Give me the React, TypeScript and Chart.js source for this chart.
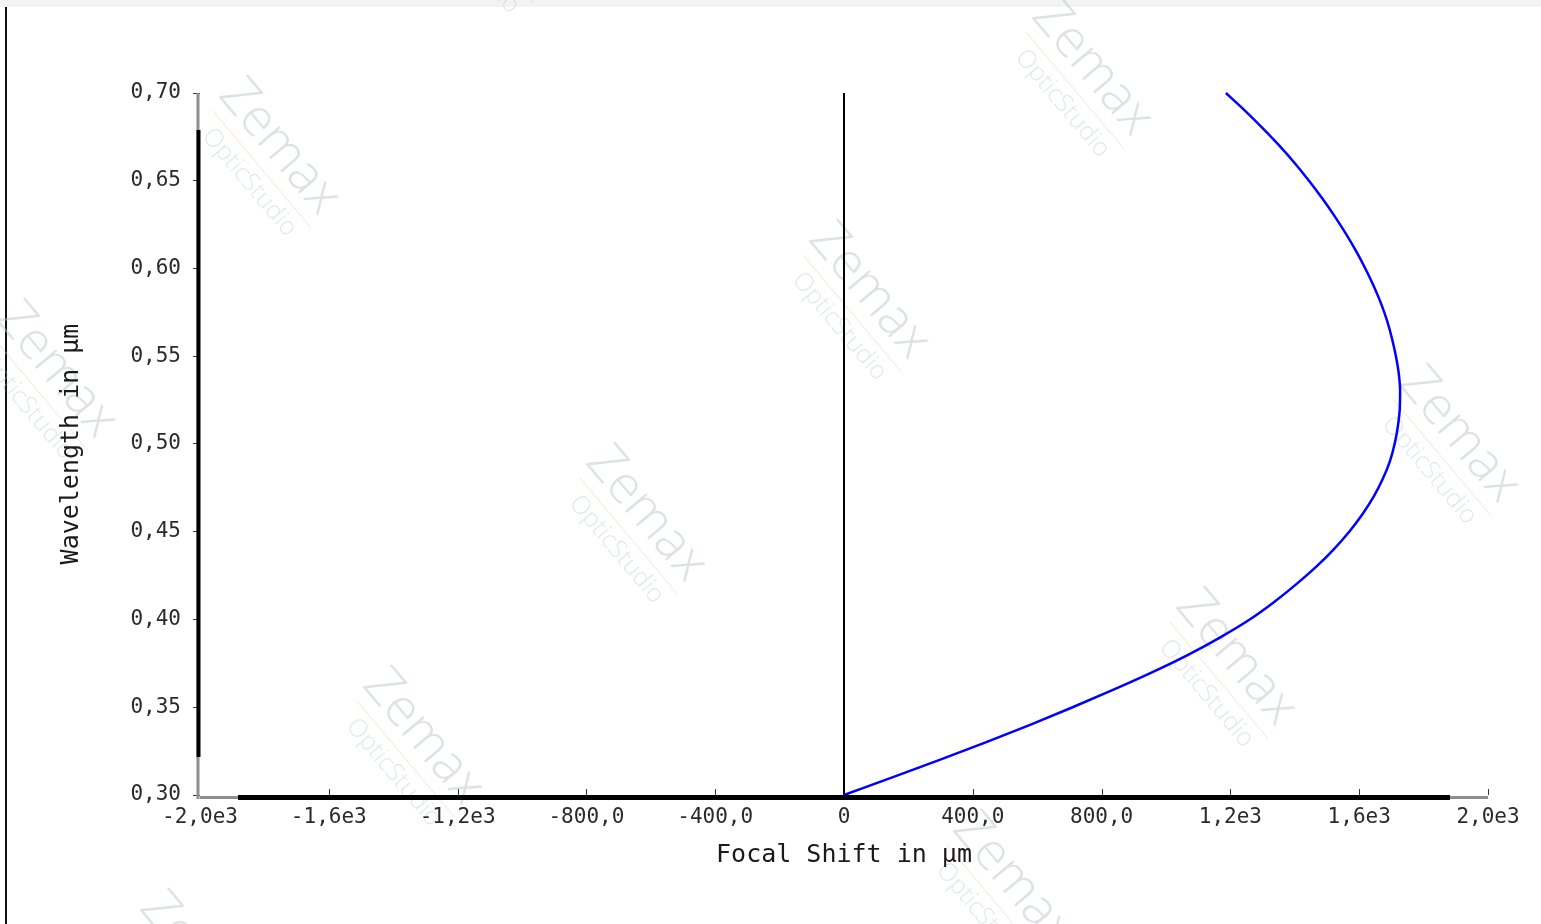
import React, { useEffect, useRef } from "react";
import { Chart, registerables } from "chart.js";

Chart.register(...registerables);

// Chromatic focal shift: wavelength (µm) against focal shift (µm)
const wavelengths = [
  0.30, 0.31, 0.32, 0.33, 0.34, 0.35, 0.36, 0.37, 0.38, 0.39,
  0.40, 0.41, 0.42, 0.43, 0.44, 0.45, 0.46, 0.47, 0.48, 0.49,
  0.50, 0.51, 0.52, 0.53, 0.54, 0.55, 0.56, 0.57, 0.58, 0.59,
  0.60, 0.61, 0.62, 0.63, 0.64, 0.65, 0.66, 0.67, 0.68, 0.69,
  0.70,
];
const focalShift = [
  0, 150, 297, 440, 578, 710, 837, 958, 1070, 1170,
  1260, 1336, 1404, 1466, 1521, 1569, 1610, 1645, 1673, 1695,
  1710, 1720, 1726, 1727, 1723, 1714, 1702, 1687, 1668, 1645,
  1619, 1590, 1558, 1523, 1485, 1444, 1400, 1352, 1300, 1245,
  1186,
];

const xTickValues = [-2000, -1600, -1200, -800, -400, 0, 400, 800, 1200, 1600, 2000];
const xTickLabels = ["-2,0e3", "-1,6e3", "-1,2e3", "-800,0", "-400,0", "0", "400,0", "800,0", "1,2e3", "1,6e3", "2,0e3"];
const yTickValues = [0.3, 0.35, 0.4, 0.45, 0.5, 0.55, 0.6, 0.65, 0.7];
const yTickLabels = ["0,30", "0,35", "0,40", "0,45", "0,50", "0,55", "0,60", "0,65", "0,70"];

const MONO = '"DejaVu Sans Mono", "Liberation Mono", monospace';

// Faint diagonal "Zemax OpticStudio" watermark tiled across the page
const drawWatermarks = (ctx: CanvasRenderingContext2D, w: number, h: number) => {
  const base = [645, 515];
  const u = [223, -223];
  const v = [367, 367];
  ctx.save();
  for (let i = -3; i <= 3; i++) {
    for (let j = -2; j <= 2; j++) {
      const cx = base[0] + i * u[0] + j * v[0];
      const cy = base[1] + i * u[1] + j * v[1];
      if (cx < -150 || cx > w + 150 || cy < -150 || cy > h + 150) continue;
      ctx.save();
      ctx.translate(cx, cy);
      ctx.rotate((50 * Math.PI) / 180);
      ctx.textAlign = "center";
      ctx.textBaseline = "middle";
      ctx.fillStyle = "rgba(185,194,204,0.48)";
      ctx.font = '300 52px "Open Sans", sans-serif';
      ctx.fillText("Zemax", 0, -2);
      ctx.strokeStyle = "rgba(248,205,165,0.45)";
      ctx.lineWidth = 1;
      ctx.beginPath();
      ctx.moveTo(-70, 26);
      ctx.lineTo(82, 26);
      ctx.stroke();
      ctx.fillStyle = "rgba(185,194,204,0.4)";
      ctx.font = '300 25px "Open Sans", sans-serif';
      ctx.fillText("OpticStudio", 8, 44);
      ctx.restore();
    }
  }
  ctx.restore();
};

const framePlugin = {
  id: "frame",
  beforeDraw(chart: any) {
    drawWatermarks(chart.ctx, chart.width, chart.height);
  },
  afterDatasetsDraw(chart: any) {
    const { ctx, chartArea, scales } = chart;
    const { left, right, top, bottom } = chartArea;
    const x = scales.x;
    ctx.save();
    // inward tick marks on the focal-shift axis
    ctx.strokeStyle = "#333";
    ctx.lineWidth = 1;
    x.ticks.forEach((t: any) => {
      if (t.value === 0 || t.value === x.min) return;
      const px = Math.round(x.getPixelForValue(t.value)) + 0.5;
      ctx.beginPath();
      ctx.moveTo(px, bottom);
      ctx.lineTo(px, bottom - 6);
      ctx.stroke();
    });
    const inset = 38;
    // axis lines: grey full length, black inner span
    ctx.fillStyle = "#8e8e8e";
    ctx.fillRect(left - 3.5, top, 3, bottom - top + 4);
    ctx.fillRect(left, bottom + 1, right - left, 3);
    ctx.fillStyle = "#000";
    ctx.fillRect(left - 3.5, top + inset - 1, 4, bottom - top - 2 * inset + 1);
    ctx.fillRect(left + inset, bottom, right - left - 2 * inset, 5);
    ctx.restore();
  },
};

export default function App() {
  const canvasRef = useRef<HTMLCanvasElement | null>(null);

  useEffect(() => {
    if (!canvasRef.current) return;
    const points = wavelengths.map((w, i) => ({ x: focalShift[i], y: w }));
    const chart = new Chart(canvasRef.current, {
      type: "line",
      data: {
        datasets: [
          {
            data: points,
            borderColor: "#0000ff",
            backgroundColor: "#0000ff",
            borderWidth: 2.5,
            pointRadius: 0,
            cubicInterpolationMode: "monotone",
            fill: false,
            clip: false,
          } as any,
        ],
      },
      options: {
        indexAxis: "y",
        animation: false,
        responsive: true,
        maintainAspectRatio: false,
        layout: { padding: { top: 93, right: 53, bottom: 0, left: 0 } },
        plugins: {
          legend: { display: false },
          tooltip: { enabled: false },
        },
        scales: {
          x: {
            type: "linear",
            axis: "x",
            position: "bottom",
            min: -2000,
            max: 2000,
            afterBuildTicks: (s: any) => {
              s.ticks = xTickValues.map((value) => ({ value }));
            },
            afterFit: (s: any) => {
              s.height = 129;
            },
            border: { display: false },
            grid: {
              drawTicks: false,
              lineWidth: 2,
              color: (c: any) => (c.tick && c.tick.value === 0 ? "#000" : "rgba(0,0,0,0)"),
            },
            ticks: {
              padding: 10,
              autoSkip: false,
              maxRotation: 0,
              color: "#2a2a2a",
              font: { family: MONO, size: 21 },
              callback: (_v: any, i: number) => xTickLabels[i],
            },
            title: {
              display: true,
              text: "Focal Shift in µm",
              color: "#1a1a1a",
              font: { family: MONO, size: 25 },
              padding: { top: 0, bottom: 54 },
            },
          },
          y: {
            type: "linear",
            axis: "y",
            position: "left",
            min: 0.3,
            max: 0.7,
            afterBuildTicks: (s: any) => {
              s.ticks = yTickValues.map((value) => ({ value }));
            },
            afterFit: (s: any) => {
              s.width = 200;
            },
            border: { display: false },
            grid: {
              drawOnChartArea: false,
              drawTicks: true,
              tickLength: 7,
              tickColor: "#333",
              tickWidth: 1,
            },
            ticks: {
              padding: 12,
              autoSkip: false,
              color: "#2a2a2a",
              font: { family: MONO, size: 21 },
              callback: (_v: any, i: number) => yTickLabels[i],
            },
            title: {
              display: true,
              text: "Wavelength in µm",
              color: "#1a1a1a",
              font: { family: MONO, size: 25 },
              padding: { top: 56, bottom: 0 },
            },
          },
        },
      },
      plugins: [framePlugin],
    });
    return () => chart.destroy();
  }, []);

  return (
    <div style={{ position: "absolute", left: 0, top: 0, width: 1541, height: 924, background: "#fff" }}>
      <div style={{ position: "absolute", left: 0, top: 0, width: 1541, height: 7, background: "#f3f3f3" }} />
      <div style={{ position: "absolute", left: 5, top: 7, width: 2, height: 917, background: "#111" }} />
      <canvas ref={canvasRef} style={{ position: "absolute", left: 0, top: 0 }} />
    </div>
  );
}
